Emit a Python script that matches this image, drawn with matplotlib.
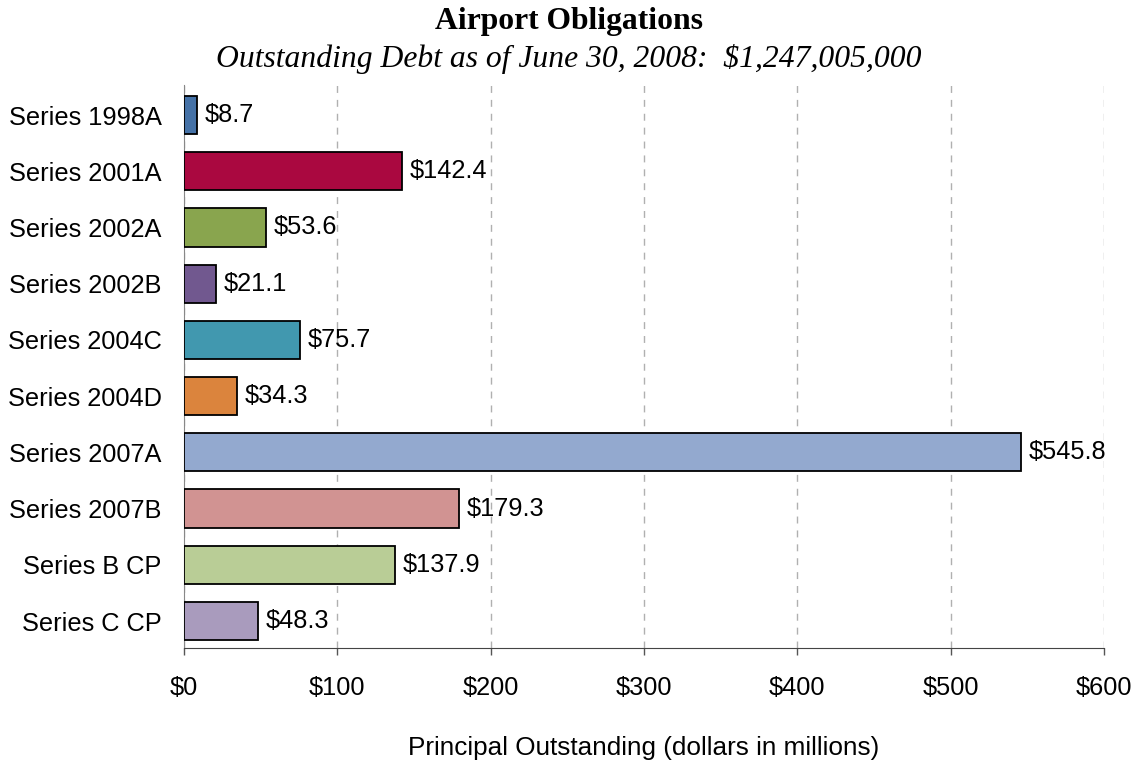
import matplotlib
matplotlib.use("Agg")
import matplotlib.pyplot as plt

series = ["Series 1998A", "Series 2001A", "Series 2002A", "Series 2002B",
          "Series 2004C", "Series 2004D", "Series 2007A", "Series 2007B",
          "Series B CP", "Series C CP"]
principal = [8.7, 142.4, 53.6, 21.1, 75.7, 34.3, 545.8, 179.3, 137.9, 48.3]
bar_colors = ["#4572A7", "#AA0840", "#89A54E", "#71588F", "#4198AF",
              "#DB843D", "#93A9CF", "#D19392", "#B9CD96", "#A99BBD"]
x_ticks = [0, 100, 200, 300, 400, 500, 600]

plt.rcParams["font.family"] = ["Liberation Sans", "DejaVu Sans"]

fig = plt.figure(figsize=(11.38, 7.61), dpi=100)
ax = fig.add_axes([0.1617, 0.1485, 0.8084, 0.7395])

y = range(len(series))
ax.barh(y, principal, height=0.68, color=bar_colors, edgecolor="black", linewidth=1.3, zorder=3)

# value labels at bar ends
for i, val in enumerate(principal):
    ax.text(val + 5, i, f"${val}", va="center", ha="left", fontsize=18.3, zorder=4)

ax.set_xlim(0, 600)
ax.set_ylim(9.48, -0.53)
ax.set_yticks(list(y))
ax.set_yticklabels(series, fontsize=18.3)
ax.set_xticks(x_ticks)
ax.set_xticklabels([f"${t}" for t in x_ticks], fontsize=18.3)
ax.tick_params(axis="y", length=0, pad=16)
ax.tick_params(axis="x", length=5, width=1, color="#555555", pad=15)

for s in ["top", "right"]:
    ax.spines[s].set_visible(False)
ax.spines["left"].set_color("#888888")
ax.spines["bottom"].set_color("#444444")

ax.xaxis.grid(True, linestyle=(0, (5, 5)), color="#b0b0b0", linewidth=1, zorder=0)
ax.set_axisbelow(True)

ax.set_xlabel("Principal Outstanding (dollars in millions)", fontsize=18.8, labelpad=26)

fig.text(0.5, 0.972, "Airport Obligations", ha="center", va="center",
         fontsize=22.8, fontweight="bold", family="Liberation Serif")
fig.text(0.5, 0.922, "Outstanding Debt as of June 30, 2008:  $1,247,005,000", ha="center",
         va="center", fontsize=22.8, style="italic", family="Liberation Serif")

fig.savefig("out.png", dpi=100)
